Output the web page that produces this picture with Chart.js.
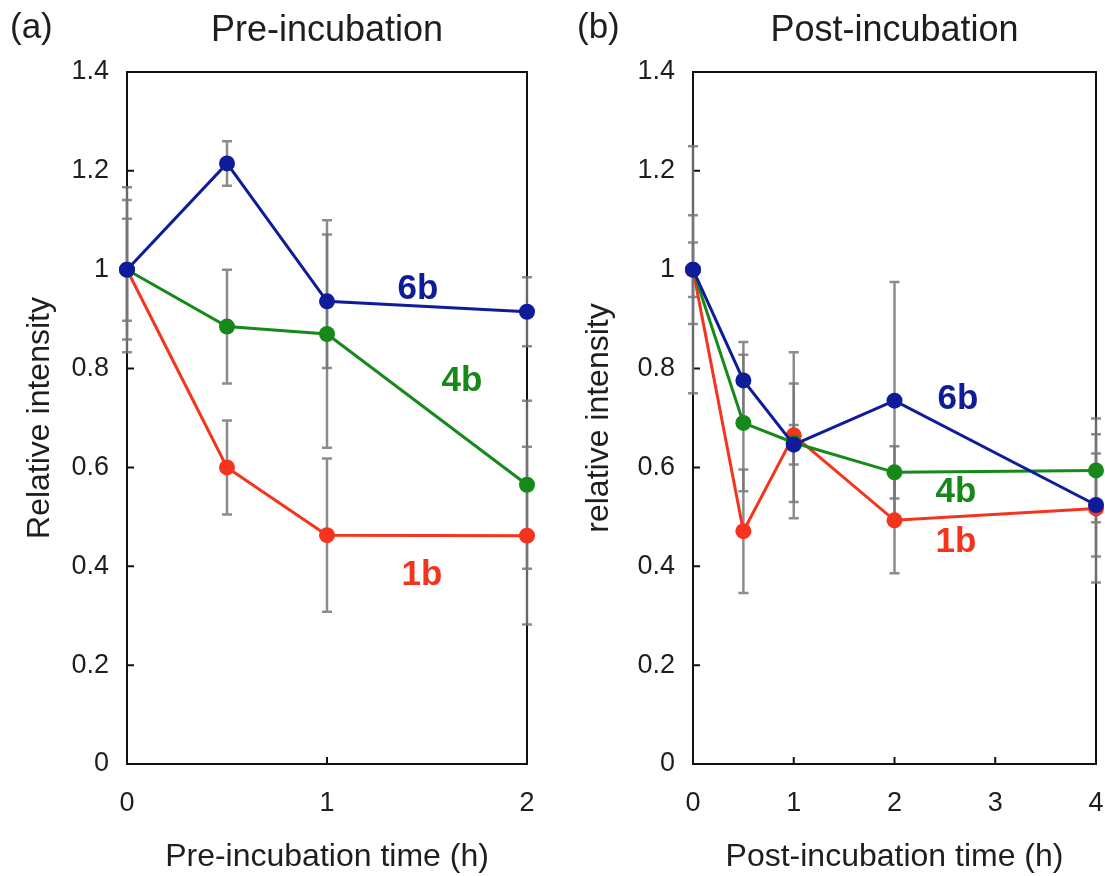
<!DOCTYPE html>
<html>
<head>
<meta charset="utf-8">
<script src="https://cdn.jsdelivr.net/npm/chart.js@4/dist/chart.umd.min.js"></script>
<style>
  body { margin: 0; background: #fff; }
  #wrap { position: relative; width: 1105px; height: 876px; }
  canvas { position: absolute; top: 0; }
</style>
</head>
<body>
<div id="wrap">
  <canvas id="graficoPre" width="555" height="876" style="left:0"></canvas>
  <canvas id="graficoPos" width="550" height="876" style="left:555px"></canvas>
</div>
<script>
// =========================================================
// 1. DADOS
// =========================================================
const tempoPre = [0, 0.5, 1, 2];
const tempoPos = [0, 0.5, 1, 2, 4];

const ticksY = [0, 0.2, 0.4, 0.6, 0.8, 1, 1.2, 1.4];
const ticksXPre = [0, 1, 2];
const ticksXPos = [0, 1, 2, 3, 4];

const nomes = ['6b', '4b', '1b'];
const cores = ['#0f1c9a', '#17891a', '#f5341f'];

// Pre-incubation
const pre6b = [1, 1.215, 0.936, 0.915];
const pre4b = [1, 0.885, 0.870, 0.565];
const pre1b = [1, 0.600, 0.463, 0.462];
const erroPre6b = [0.167, 0.045, 0.135, 0.070];
const erroPre4b = [0.141, 0.115, 0.230, 0.170];
const erroPre1b = [0.103, 0.095, 0.155, 0.180];

// Post-incubation
const pos6b = [1, 0.776, 0.646, 0.735, 0.524];
const pos4b = [1, 0.690, 0.650, 0.590, 0.594];
const pos1b = [1, 0.471, 0.665, 0.493, 0.517];
const erroPos6b = [0.055, 0.078, 0.040, 0.240, 0.104];
const erroPos4b = [0.110, 0.138, 0.120, 0.053, 0.105];
const erroPos1b = [0.250, 0.125, 0.168, 0.107, 0.150];

// onde escrever "6b", "4b", "1b" (em unidades dos eixos)
const rotulosPre = [[1.455, 0.96], [1.675, 0.775], [1.475, 0.382]];
const rotulosPos = [[2.63, 0.738], [2.61, 0.55], [2.61, 0.449]];

const fonte = "'Liberation Sans', Arial, Helvetica, sans-serif";
const corTexto = '#1e1e1e';

// =========================================================
// 2. PLUGINS: moldura, barras de erro e textos
// =========================================================
const moldura = {
  id: 'moldura',
  beforeDatasetsDraw(chart) {
    const { ctx, chartArea: a, scales: { x, y } } = chart;
    ctx.save();
    ctx.strokeStyle = '#111';
    ctx.lineWidth = 2;
    ctx.strokeRect(a.left, a.top, a.right - a.left, a.bottom - a.top);
    ctx.beginPath();
    // marcas para dentro no eixo y
    y.ticks.forEach(t => {
      const py = y.getPixelForValue(t.value);
      ctx.moveTo(a.left, py);
      ctx.lineTo(a.left + 7, py);
    });
    // marcas para dentro no eixo x
    x.ticks.forEach(t => {
      const px = x.getPixelForValue(t.value);
      ctx.moveTo(px, a.bottom);
      ctx.lineTo(px, a.bottom - 7);
    });
    ctx.stroke();
    ctx.restore();
  }
};

const barrasErro = {
  id: 'barrasErro',
  beforeDatasetsDraw(chart) {
    const { ctx, scales: { x, y } } = chart;
    ctx.save();
    ctx.strokeStyle = 'rgba(120,120,120,0.85)';
    ctx.lineWidth = 2.5;
    chart.data.datasets.forEach(ds => {
      ds.data.forEach((p, i) => {
        const e = ds.erros[i];
        const px = x.getPixelForValue(p.x);
        const topo = y.getPixelForValue(p.y + e);
        const base = y.getPixelForValue(p.y - e);
        ctx.beginPath();
        ctx.moveTo(px, topo); ctx.lineTo(px, base);
        ctx.moveTo(px - 5, topo); ctx.lineTo(px + 5, topo);
        ctx.moveTo(px - 5, base); ctx.lineTo(px + 5, base);
        ctx.stroke();
      });
    });
    ctx.restore();
  }
};

const textos = {
  id: 'textos',
  afterDraw(chart, args, opts) {
    const { ctx, chartArea: a, scales: { x, y } } = chart;
    ctx.save();
    ctx.textBaseline = 'middle';
    // letra do painel e titulo
    ctx.fillStyle = corTexto;
    ctx.font = `35px ${fonte}`;
    ctx.textAlign = 'left';
    ctx.fillText(opts.letra, opts.letraX, 28);
    ctx.font = `36px ${fonte}`;
    ctx.textAlign = 'center';
    ctx.fillText(opts.titulo, (a.left + a.right) / 2, 31);
    // nomes das series
    ctx.font = `bold 35px ${fonte}`;
    opts.rotulos.forEach((r, i) => {
      ctx.fillStyle = cores[i];
      ctx.fillText(nomes[i], x.getPixelForValue(r[0]), y.getPixelForValue(r[1]));
    });
    ctx.restore();
  }
};

// =========================================================
// 3. MONTAGEM DOS GRAFICOS
// =========================================================
function montarSeries(tempos, series, erros) {
  return series.map((s, i) => ({
    label: nomes[i],
    data: tempos.map((t, j) => ({ x: t, y: s[j] })),
    erros: erros[i],
    borderColor: cores[i],
    backgroundColor: cores[i],
    borderWidth: 3,
    pointRadius: 8,
    pointBorderWidth: 0,
    tension: 0,
    clip: false
  }));
}

function criarGrafico(id, cfg) {
  return new Chart(document.getElementById(id), {
    type: 'line',
    data: { datasets: montarSeries(cfg.tempos, cfg.series, cfg.erros) },
    options: {
      responsive: false,
      animation: false,
      layout: { autoPadding: false, padding: { top: 72, right: cfg.direita, left: 0, bottom: 0 } },
      plugins: {
        legend: { display: false },
        tooltip: { enabled: false },
        textos: { letra: cfg.letra, letraX: cfg.letraX, titulo: cfg.titulo, rotulos: cfg.rotulos }
      },
      scales: {
        x: {
          type: 'linear',
          min: 0,
          max: cfg.ticksX[cfg.ticksX.length - 1],
          afterBuildTicks: s => { s.ticks = cfg.ticksX.map(v => ({ value: v })); },
          afterFit: s => { s.height = 112; s.paddingLeft = 0; s.paddingRight = 0; },
          grid: { display: false },
          border: { display: false },
          ticks: { font: { family: fonte, size: 27 }, color: corTexto, padding: 15, maxRotation: 0 },
          title: {
            display: true, text: cfg.tituloX, color: corTexto,
            font: { family: fonte, size: 32 }, padding: { top: 0, bottom: 0 }
          }
        },
        y: {
          min: 0,
          max: 1.4,
          afterBuildTicks: s => { s.ticks = ticksY.map(v => ({ value: v })); },
          afterFit: s => { s.width = cfg.larguraY; s.paddingTop = 0; s.paddingBottom = 0; },
          grid: { display: false },
          border: { display: false },
          ticks: {
            font: { family: fonte, size: 27 }, color: corTexto, padding: 10,
            callback: v => String(Math.round(v * 10) / 10)
          },
          title: {
            display: true, text: cfg.tituloY, color: corTexto,
            font: { family: fonte, size: 32 }, padding: { top: cfg.padTituloY, bottom: 0 }
          }
        }
      }
    },
    plugins: [moldura, barrasErro, textos]
  });
}

criarGrafico('graficoPre', {
  tempos: tempoPre,
  series: [pre6b, pre4b, pre1b],
  erros: [erroPre6b, erroPre4b, erroPre1b],
  ticksX: ticksXPre,
  letra: '(a)', letraX: 10,
  titulo: 'Pre-incubation',
  tituloX: 'Pre-incubation time (h)',
  tituloY: 'Relative intensity',
  rotulos: rotulosPre,
  larguraY: 127, direita: 28, padTituloY: 21
});

criarGrafico('graficoPos', {
  tempos: tempoPos,
  series: [pos6b, pos4b, pos1b],
  erros: [erroPos6b, erroPos4b, erroPos1b],
  ticksX: ticksXPos,
  letra: '(b)', letraX: 22,
  titulo: 'Post-incubation',
  tituloX: 'Post-incubation time (h)',
  tituloY: 'relative intensity',
  rotulos: rotulosPos,
  larguraY: 138, direita: 9, padTituloY: 25
});
</script>
</body>
</html>
